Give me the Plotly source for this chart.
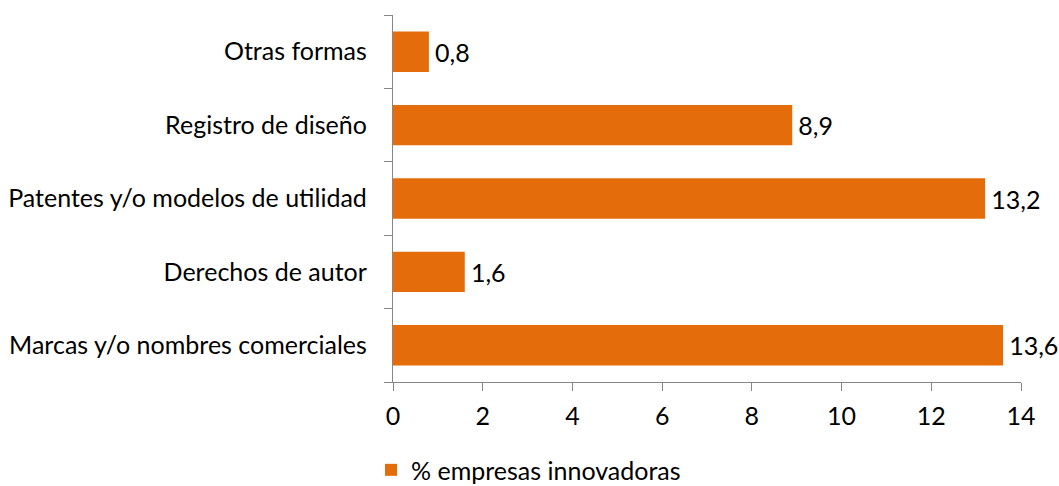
import plotly.graph_objects as go

categories = ["Marcas y/o nombres comerciales", "Derechos de autor",
              "Patentes y/o modelos de utilidad", "Registro de diseño", "Otras formas"]
values = [13.6, 1.6, 13.2, 8.9, 0.8]
series_name = "% empresas innovadoras"
x_ticks = [0, 2, 4, 6, 8, 10, 12, 14]

FONT = "Lato"
AXIS = "#868686"
FS = 25

fig = go.Figure(go.Bar(
    y=categories, x=values, orientation="h", name=series_name,
    marker=dict(color="#E46C0A", line=dict(width=0)),
    texttemplate="\u2009%{x:.1f}", textposition="outside", cliponaxis=False,
    textfont=dict(family=FONT, size=FS, color="#000000"),
    showlegend=True,
))

fig.update_layout(
    width=1059, height=486,
    margin=dict(l=393, r=38, t=15, b=104, autoexpand=False),
    paper_bgcolor="white", plot_bgcolor="white",
    separators=",.",
    bargap=0.45,
    font=dict(family=FONT, size=FS, color="#000000"),
    xaxis=dict(range=[0, 14], tickvals=x_ticks, showgrid=False, zeroline=False,
               showline=True, linecolor=AXIS, linewidth=1.3,
               ticks="outside", ticklen=8, tickcolor=AXIS, tickwidth=1.3,
               tickfont=dict(family=FONT, size=FS), ticklabelstandoff=4,
               automargin=False, fixedrange=True),
    yaxis=dict(showgrid=False, zeroline=False, showline=True, linecolor=AXIS,
               linewidth=1.3, ticks="outside", ticklen=8, tickcolor=AXIS,
               tickwidth=1.3, tickson="boundaries", automargin=False,
               tickfont=dict(family=FONT, size=FS), ticklabelstandoff=20),
    legend=dict(orientation="h", x=-0.035, xanchor="left", y=-0.24, yanchor="middle",
                font=dict(family=FONT, size=FS), itemwidth=30),
)

fig.write_html("out.html", config={"displayModeBar": False},
               post_script="document.body.style.margin='0';")
